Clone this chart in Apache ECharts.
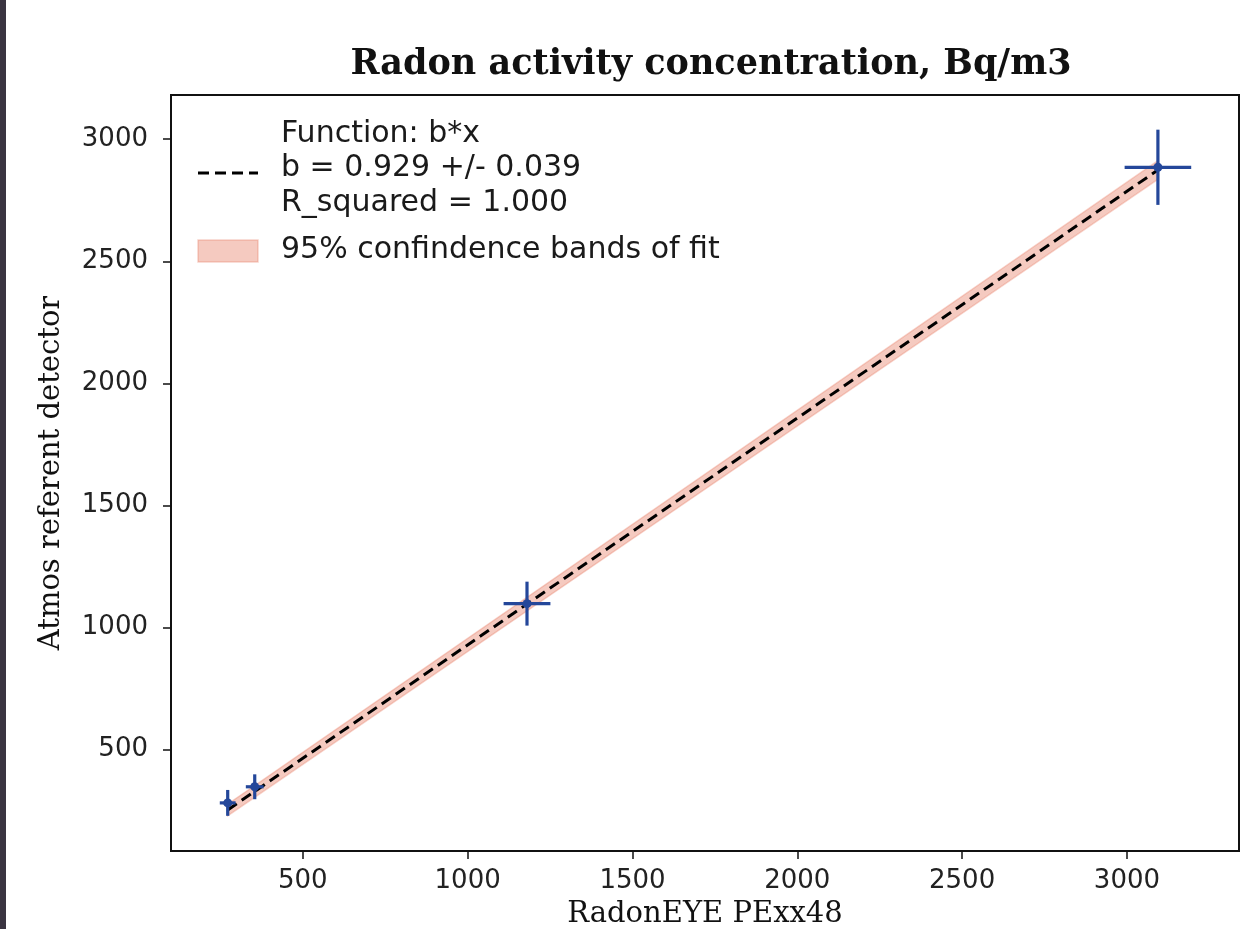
<!DOCTYPE html>
<html>
<head>
<meta charset="utf-8">
<script src="https://cdn.jsdelivr.net/npm/echarts@6/dist/echarts.min.js"></script>
<style>
html,body{margin:0;padding:0;background:#fff;}
#chart{width:1242px;height:929px;}
</style>
</head>
<body>
<div id="chart"></div>
<script>
// ---- data ----
const titleText = 'Radon activity concentration, Bq/m3';
const xAxisName = 'RadonEYE PExx48';
const yAxisName = 'Atmos referent detector';
const xTicks = [500, 1000, 1500, 2000, 2500, 3000];
const yTicks = [500, 1000, 1500, 2000, 2500, 3000];

// measurements (RadonEYE x, Atmos y) with error bars
const pointX = [272, 354, 1180, 3094];
const pointY = [282, 348, 1098, 2885];
const pointXErr = [24, 27, 71, 101];
const pointYErr = [53, 51, 90, 154];

// fitted line b*x (endpoints)
const fitX = [272, 3094];
const fitY = [253, 2874];

// 95% confidence band of the fit
const bandX = [272, 354, 1180, 3094];
const bandLow = [229, 305, 1068, 2836];
const bandHigh = [277, 353, 1124, 2912];

const legendLines = ['Function: b*x', 'b = 0.929 +/- 0.039', 'R_squared = 1.000'];
const legendBand = '95% confindence bands of fit';

// ---- chart ----
const chart = echarts.init(document.getElementById('chart'));
const sans = 'DejaVu Sans';
const serif = 'DejaVu Serif';

const errData = pointX.map((x, i) => [x, pointY[i], pointXErr[i], pointYErr[i]]);
const bandData = bandX.map((x, i) => [x, bandLow[i], bandHigh[i]]);
const fitData = fitX.map((x, i) => [x, fitY[i]]);
const plain = v => String(v);
const bandFill = 'rgba(232,128,106,0.42)';
const bandEdge = 'rgba(232,128,106,0.35)';

const legendGraphics = legendLines.map((t, i) => ({
  type: 'text', x: 281, y: 134 + i * 34.5, z: 100,
  style: {text: t, fontFamily: sans, fontSize: 30, fill: '#1a1a1a', verticalAlign: 'middle'}
}));

const option = {
  backgroundColor: '#ffffff',
  animation: false,
  title: {
    text: titleText,
    left: 706,
    top: 42,
    textAlign: 'center',
    textStyle: {fontFamily: serif, fontSize: 35, fontWeight: 'bold', color: '#111'}
  },
  grid: {
    left: 171, top: 95, right: 3, bottom: 78,
    containLabel: false, outerBoundsMode: 'none',
    show: true, borderColor: '#111', borderWidth: 2, backgroundColor: 'transparent'
  },
  xAxis: {
    type: 'value', min: 100, max: 3340,
    splitLine: {show: false},
    axisLine: {show: true, onZero: false, lineStyle: {color: '#111', width: 2}},
    axisTick: {show: true, length: 8, lineStyle: {color: '#111', width: 1.5}, customValues: xTicks},
    axisLabel: {customValues: xTicks, formatter: plain, margin: 17, fontFamily: sans, fontSize: 26, color: '#222'},
    name: xAxisName, nameLocation: 'middle', nameGap: 49,
    nameTextStyle: {fontFamily: serif, fontSize: 29, fontWeight: 'normal', color: '#111'}
  },
  yAxis: {
    type: 'value', min: 85, max: 3181,
    splitLine: {show: false},
    axisLine: {show: true, onZero: false, lineStyle: {color: '#111', width: 2}},
    axisTick: {show: true, length: 8, lineStyle: {color: '#111', width: 1.5}, customValues: yTicks},
    axisLabel: {customValues: yTicks, formatter: plain, margin: 23, fontFamily: sans, fontSize: 26, color: '#222'},
    name: yAxisName, nameLocation: 'middle', nameGap: 105, nameRotate: 90,
    nameTextStyle: {fontFamily: serif, fontSize: 29, fontWeight: 'normal', color: '#111'}
  },
  series: [
    {
      type: 'custom',
      name: 'band',
      data: bandData,
      clip: true,
      z: 1,
      renderItem: function (params, api) {
        if (params.dataIndex !== 0) return null;
        const pts = [];
        for (let i = 0; i < bandData.length; i++) pts.push(api.coord([bandData[i][0], bandData[i][2]]));
        for (let i = bandData.length - 1; i >= 0; i--) pts.push(api.coord([bandData[i][0], bandData[i][1]]));
        return {
          type: 'polygon',
          shape: {points: pts},
          style: {fill: bandFill, stroke: bandEdge, lineWidth: 1.5}
        };
      }
    },
    {
      type: 'line',
      name: 'fit',
      data: fitData,
      showSymbol: false,
      symbol: 'none',
      z: 3,
      lineStyle: {color: '#000', width: 3, type: [11, 6]}
    },
    {
      type: 'custom',
      name: 'points',
      data: errData,
      z: 5,
      renderItem: function (params, api) {
        const x = api.value(0), y = api.value(1), ex = api.value(2), ey = api.value(3);
        const c = api.coord([x, y]);
        const l = api.coord([x - ex, y]);
        const r = api.coord([x + ex, y]);
        const t = api.coord([x, y + ey]);
        const b = api.coord([x, y - ey]);
        const st = {stroke: '#24479a', lineWidth: 3.2};
        return {
          type: 'group',
          children: [
            {type: 'line', shape: {x1: l[0], y1: l[1], x2: r[0], y2: r[1]}, style: st},
            {type: 'line', shape: {x1: t[0], y1: t[1], x2: b[0], y2: b[1]}, style: st},
            {type: 'circle', shape: {cx: c[0], cy: c[1], r: 4.5}, style: {fill: '#24479a'}}
          ]
        };
      }
    }
  ],
  graphic: [
    {type: 'rect', left: 0, top: 0, shape: {width: 6, height: 929}, style: {fill: '#3a3441'}, z: 100},
    {type: 'line', shape: {x1: 198, y1: 173, x2: 258, y2: 173},
     style: {stroke: '#000', lineWidth: 3, lineDash: [11, 6]}, z: 100},
    ...legendGraphics,
    {type: 'rect', shape: {x: 198, y: 240, width: 60, height: 22},
     style: {fill: bandFill, stroke: bandEdge, lineWidth: 1.5}, z: 100},
    {type: 'text', x: 281, y: 250, z: 100,
     style: {text: legendBand, fontFamily: sans, fontSize: 30, fill: '#1a1a1a', verticalAlign: 'middle'}}
  ]
};
chart.setOption(option);
</script>
</body>
</html>
